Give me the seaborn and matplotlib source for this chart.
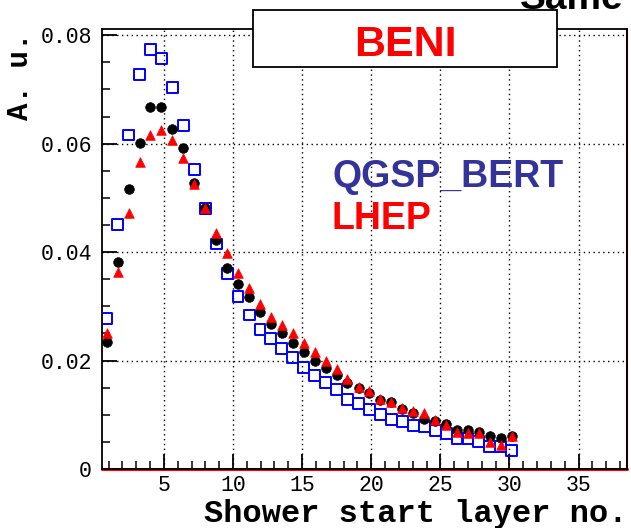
import matplotlib
matplotlib.use("Agg")
import matplotlib.pyplot as plt
from matplotlib.patches import Rectangle
from matplotlib.ticker import MultipleLocator
import seaborn as sns
import pandas as pd

# ---- data ----
x_pos = [0.86, 1.65, 2.44, 3.24, 4.03, 4.82, 5.61, 6.40, 7.20, 7.99,
         8.78, 9.57, 10.36, 11.16, 11.95, 12.74, 13.53, 14.32, 15.12, 15.91,
         16.70, 17.49, 18.28, 19.08, 19.87, 20.66, 21.45, 22.24, 23.04, 23.83,
         24.62, 25.41, 26.20, 27.00, 27.79, 28.58, 29.37, 30.16]

data_vals = [0.0235, 0.0381, 0.0516, 0.0602, 0.0667, 0.0667, 0.0628, 0.0592, 0.0527, 0.0481,
             0.0423, 0.0371, 0.0341, 0.0317, 0.0290, 0.0268, 0.0250, 0.0232, 0.0215, 0.0200,
             0.0187, 0.0173, 0.0158, 0.0150, 0.0140, 0.0127, 0.0124, 0.0110, 0.0104, 0.0092,
             0.0089, 0.0083, 0.0072, 0.0072, 0.0068, 0.0061, 0.0057, 0.0060]

lhep_vals = [0.0250, 0.0364, 0.0473, 0.0567, 0.0616, 0.0625, 0.0607, 0.0573, 0.0525, 0.0481,
             0.0435, 0.0398, 0.0361, 0.0333, 0.0304, 0.0281, 0.0266, 0.0250, 0.0232, 0.0215,
             0.0200, 0.0185, 0.0166, 0.0152, 0.0143, 0.0130, 0.0124, 0.0113, 0.0107, 0.0103,
             0.0090, 0.0081, 0.0069, 0.0067, 0.0066, 0.0049, 0.0044, 0.0061]

qgsp_vals = [0.0277, 0.0451, 0.0616, 0.0728, 0.0774, 0.0758, 0.0704, 0.0633, 0.0553, 0.0481,
             0.0415, 0.0361, 0.0318, 0.0284, 0.0258, 0.0240, 0.0222, 0.0205, 0.0188, 0.0172,
             0.0160, 0.0146, 0.0129, 0.0121, 0.0109, 0.0101, 0.0092, 0.0087, 0.0081, 0.0078,
             0.0071, 0.0066, 0.0057, 0.0057, 0.0050, 0.0041, 0.0041, 0.0034]

x_ticks = [5, 10, 15, 20, 25, 30, 35]
y_ticks = [0, 0.02, 0.04, 0.06, 0.08]
y_tick_labels = ["0", "0.02", "0.04", "0.06", "0.08"]

df = pd.DataFrame({"x": x_pos, "data": data_vals, "lhep": lhep_vals, "qgsp": qgsp_vals})

# ---- style ----
sns.set_style("white")
plt.rcParams["font.family"] = ["Liberation Mono", "DejaVu Sans"]

W, H = 631, 528
fig = plt.figure(figsize=(W / 100, H / 100), dpi=100)
left, right, top, bottom = 101.7, 627, 29.3, 469
ax = fig.add_axes([left / W, 1 - bottom / H, (right - left) / W, (bottom - top) / H])

# scatter series
sns.scatterplot(data=df, x="x", y="qgsp", ax=ax, marker="s", s=62, color="blue",
                facecolor="none", edgecolor="blue", linewidth=1.4, legend=False, zorder=3)
ax.collections[-1].set_facecolor("none")
sns.scatterplot(data=df, x="x", y="data", ax=ax, marker="o", s=48, color="black",
                edgecolor="black", linewidth=0.5, legend=False, zorder=4)
sns.scatterplot(data=df, x="x", y="lhep", ax=ax, marker="^", s=48, color="red",
                edgecolor="red", linewidth=0.5, legend=False, zorder=5)

ax.set_xlim(0.5, 38.5)
ax.set_ylim(0, 0.0811)
ax.set_xlabel("")
ax.set_ylabel("")

ax.set_xticks(x_ticks)
ax.set_xticklabels([str(t) for t in x_ticks])
ax.set_yticks(y_ticks)
ax.set_yticklabels(y_tick_labels)
ax.xaxis.set_minor_locator(MultipleLocator(1))
ax.yaxis.set_minor_locator(MultipleLocator(0.005))

ax.tick_params(axis="both", which="major", direction="in", length=11, width=1.3,
               labelsize=15.5, color="black", labelcolor="black")
ax.tick_params(axis="both", which="minor", direction="in", length=6, width=1.1, color="black")
ax.tick_params(axis="x", which="both", bottom=True, top=False, pad=4)
ax.tick_params(axis="y", which="both", left=True, right=False, pad=7)

ax.grid(True, which="major", color="black", linestyle=(0, (1, 2.5)), linewidth=1.0)
ax.set_axisbelow(True)

for sp in ax.spines.values():
    sp.set_color("black")
    sp.set_linewidth(1.3)
    sp.set_visible(True)

ax.axhline(0, color="red", linewidth=2.2, clip_on=False, zorder=2)
ax.axvline(38.5, color="red", linewidth=1.5, clip_on=False, zorder=2)

# axis titles
fig.text(628 / W, 1 - 522 / H, "Shower start layer no.", ha="right", va="baseline",
         fontsize=23, fontweight="bold", color="black")
fig.text(20 / W, 1 - 76 / H, "A. u.", ha="center", va="center", rotation=90,
         fontsize=21, fontweight="bold", color="black")

# BENI box
box = Rectangle((253 / W, 1 - 67 / H), (557 - 253) / W, (67 - 10) / H,
                transform=fig.transFigure, facecolor="white", edgecolor="black",
                linewidth=1.3, zorder=10)
fig.patches.append(box)
fig.text(405 / W, 1 - 45 / H, "BENI", ha="center", va="center", fontsize=31,
         fontweight="bold", color="#ff0000", family=["Liberation Sans", "DejaVu Sans"], zorder=11)

# model labels
fig.text(332 / W, 1 - 187 / H, "QGSP_BERT", ha="left", va="baseline", fontsize=27,
         fontweight="bold", color="#333399", family=["Liberation Sans", "DejaVu Sans"])
fig.text(332 / W, 1 - 229 / H, "LHEP", ha="left", va="baseline", fontsize=27,
         fontweight="bold", color="#ff0000", family=["Liberation Sans", "DejaVu Sans"])

# clipped text at top right (only its lower part is visible in the reference)
fig.text(572 / W, 1 - 9 / H, "Same", ha="center", va="baseline", fontsize=28,
         fontweight="bold", color="black", family=["Liberation Sans", "DejaVu Sans"])

fig.savefig("out.png", dpi=100)
